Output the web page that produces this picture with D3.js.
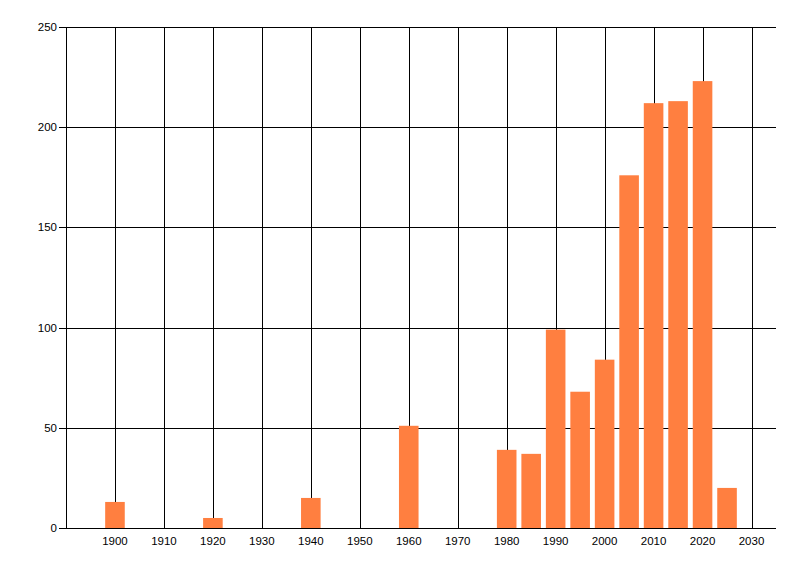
<!DOCTYPE html>
<html>
<head>
<meta charset="utf-8">
<script src="https://cdn.jsdelivr.net/npm/d3@7"></script>
<style>
  body { margin: 0; background: #fff; }
  text { font-family: "Liberation Sans", Arial, sans-serif; font-size: 11.5px; fill: #000; }
</style>
</head>
<body>
<svg id="chart" width="800" height="576"></svg>
<script>
const years = [1900, 1920, 1940, 1960, 1980, 1985, 1990, 1995, 2000, 2005, 2010, 2015, 2020, 2025];
const counts = [13, 5, 15, 51, 39, 37, 99, 68, 84, 176, 212, 213, 223, 20];
const xTicks = [1900, 1910, 1920, 1930, 1940, 1950, 1960, 1970, 1980, 1990, 2000, 2010, 2020, 2030];
const yTicks = [0, 50, 100, 150, 200, 250];

const svg = d3.select('#chart');
const plot = { left: 66, right: 776, top: 27, bottom: 528 };

const x = d3.scaleLinear().domain([1890, 2035]).range([plot.left, plot.right]);
const y = d3.scaleLinear().domain([0, 250]).range([plot.bottom, plot.top]);

// grid
svg.append('g').selectAll('line').data(xTicks).join('line')
    .attr('x1', d => Math.round(x(d)) + 0.5).attr('x2', d => Math.round(x(d)) + 0.5)
    .attr('y1', plot.top).attr('y2', plot.bottom)
    .attr('stroke', '#000');

svg.append('g').selectAll('line').data(yTicks).join('line')
    .attr('x1', plot.left - 7).attr('x2', plot.right)
    .attr('y1', d => Math.round(y(d)) + 0.5).attr('y2', d => Math.round(y(d)) + 0.5)
    .attr('stroke', '#000');

// bars
const barW = 4;
svg.append('g').selectAll('rect').data(years).join('rect')
    .attr('x', d => x(d - barW / 2))
    .attr('width', x(barW / 2) - x(-barW / 2))
    .attr('y', (d, i) => y(counts[i]))
    .attr('height', (d, i) => y(0) - y(counts[i]))
    .attr('fill', '#ff7f40');

// axes lines
svg.append('line')
    .attr('x1', plot.left + 0.5).attr('x2', plot.left + 0.5)
    .attr('y1', plot.top).attr('y2', plot.bottom + 1)
    .attr('stroke', '#000');
svg.append('line')
    .attr('x1', plot.left).attr('x2', plot.right)
    .attr('y1', plot.bottom + 0.5).attr('y2', plot.bottom + 0.5)
    .attr('stroke', '#000');

// labels
svg.append('g').selectAll('text').data(yTicks).join('text')
    .attr('x', plot.left - 9)
    .attr('y', d => y(d))
    .attr('dy', '0.35em')
    .attr('text-anchor', 'end')
    .text(d => d);

svg.append('g').selectAll('text').data(xTicks).join('text')
    .attr('x', d => x(d))
    .attr('y', plot.bottom + 13)
    .attr('dy', '0.35em')
    .attr('text-anchor', 'middle')
    .text(d => d);
</script>
</body>
</html>
